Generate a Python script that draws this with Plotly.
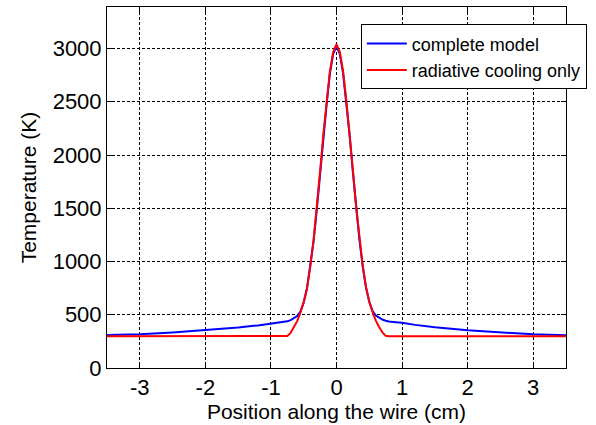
import plotly.graph_objects as go

# position along the wire (cm)
x_pos = [-3.5, -3.0, -2.5, -2.0, -1.5, -1.2, -1.0, -0.9, -0.8, -0.75, -0.7, -0.65,
         -0.6, -0.55, -0.5, -0.45, -0.4, -0.35, -0.3, -0.25, -0.2, -0.15, -0.1, -0.05,
         0.0,
         0.05, 0.1, 0.15, 0.2, 0.25, 0.3, 0.35, 0.4, 0.45, 0.5, 0.55, 0.6,
         0.65, 0.7, 0.75, 0.8, 0.9, 1.0, 1.2, 1.5, 2.0, 2.5, 3.0, 3.5]

# temperature (K)
temp_complete = [310, 316, 334, 354, 380, 400, 414, 421, 430, 438, 450, 466,
                 488, 530, 615, 745, 945, 1190, 1490, 1830, 2180, 2480, 2770, 2950,
                 3020,
                 2950, 2770, 2490, 2190, 1840, 1500, 1200, 955, 755, 620, 535, 492,
                 470, 455, 444, 436, 430, 425, 405, 382, 354, 334, 316, 308]

temp_radiative = [297, 297, 297, 297, 297, 297, 297, 297, 298, 300, 330, 380,
                  440, 520, 620, 750, 950, 1200, 1500, 1850, 2200, 2500, 2790, 2970,
                  3040,
                  2970, 2790, 2510, 2210, 1860, 1510, 1210, 960, 760, 625, 525, 445,
                  385, 335, 302, 298, 297, 297, 297, 297, 297, 297, 297, 297]

x_ticks = [-3, -2, -1, 0, 1, 2, 3]
x_ticklabels = ['-3', '-2', '-1', '0', '1', '2', '3']
y_ticks = [0, 500, 1000, 1500, 2000, 2500, 3000]

font = 'Arial, Liberation Sans, sans-serif'

fig = go.Figure()
fig.add_trace(go.Scatter(x=x_pos, y=temp_complete, mode='lines', name='complete model',
                         line=dict(color='#0000ff', width=2)))
fig.add_trace(go.Scatter(x=x_pos, y=temp_radiative, mode='lines', name='radiative cooling only',
                         line=dict(color='#ff0000', width=2)))

axis_common = dict(
    showline=True, linecolor='black', linewidth=1, mirror='ticks',
    ticks='inside', ticklen=5, tickcolor='black',
    showgrid=True, gridcolor='black', gridwidth=1, griddash='3px,2px',
    zeroline=False,
    tickfont=dict(family=font, size=22, color='black'),
)

fig.update_xaxes(range=[-3.5, 3.5], tickvals=x_ticks, ticktext=x_ticklabels,
                 title=dict(text='Position along the wire (cm)', standoff=4,
                            font=dict(family=font, size=21, color='black')),
                 **axis_common)
fig.update_yaxes(range=[0, 3390], tickvals=y_ticks,
                 title=dict(text='Temperature (K)', standoff=10,
                            font=dict(family=font, size=21, color='black')),
                 **axis_common)

fig.update_layout(
    width=596, height=425,
    margin=dict(l=107, r=30, t=7, b=57, autoexpand=False),
    paper_bgcolor='white', plot_bgcolor='white',
    font=dict(family=font, color='black'),
    legend=dict(x=0.553, y=0.952, xanchor='left', yanchor='top',
                bgcolor='white', bordercolor='black', borderwidth=1,
                font=dict(family=font, size=18, color='black'),
                tracegroupgap=0, itemwidth=40),
)

fig.write_html("out.html", config={'displayModeBar': False},
               post_script="document.body.style.margin='0';")
